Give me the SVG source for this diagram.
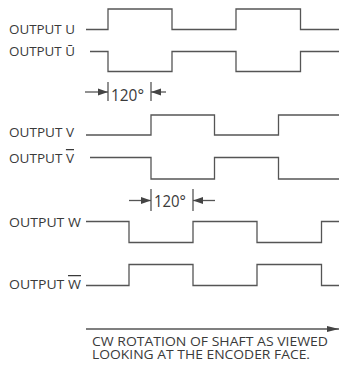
<svg xmlns="http://www.w3.org/2000/svg" width="339" height="365" viewBox="0 0 339 365">
<style>
.lbl{font-family:"Open Sans","Noto Sans",sans-serif;font-size:12.5px;fill:#3a3a3a}
.dim{font-family:"Open Sans","Noto Sans",sans-serif;font-size:16px;fill:#3a3a3a}
.note{font-family:"Open Sans","Noto Sans",sans-serif;font-size:13.5px;fill:#3a3a3a}
.wave{fill:none;stroke:#555;stroke-width:1.3}
.tick{stroke:#555;stroke-width:1.3}
.arr{stroke:#555;stroke-width:1.3;fill:none}
.ol{text-decoration:overline}
</style>
<defs>
<marker id="ah" markerUnits="userSpaceOnUse" markerWidth="12" markerHeight="8" refX="10" refY="4" orient="auto">
<path d="M0,0.5 L10,4 L0,7.5 Z" fill="#444"/>
</marker>
<marker id="ahb" markerUnits="userSpaceOnUse" markerWidth="14" markerHeight="8" refX="12" refY="4" orient="auto">
<path d="M0,1 L12,4 L0,7 Z" fill="#444"/>
</marker>
</defs>
<g id="output-u">
<text class="lbl" x="9" y="34" textLength="66" lengthAdjust="spacingAndGlyphs">OUTPUT U</text>
<path class="wave" d="M86,29.5 H108 V9 H172 V29.5 H236 V9 H300.5 V29.5 H339"/>
</g>
<g id="output-u-bar">
<text class="lbl" x="9" y="56" textLength="66" lengthAdjust="spacingAndGlyphs">OUTPUT Ū</text>
<path class="wave" d="M90,51.5 H108 V71.5 H172 V51.5 H236 V71.5 H300.5 V51.5 H339"/>
</g>
<g id="output-v">
<text class="lbl" x="9" y="137" textLength="65" lengthAdjust="spacingAndGlyphs">OUTPUT V</text>
<path class="wave" d="M86,135 H151 V115 H214.5 V135 H278.5 V115 H339"/>
</g>
<g id="output-v-bar">
<text class="lbl" x="9" y="163" textLength="65" lengthAdjust="spacingAndGlyphs">OUTPUT <tspan class="ol">V</tspan></text>
<path class="wave" d="M90,157.5 H151 V179 H214.5 V157.5 H278.5 V179 H339"/>
</g>
<g id="output-w">
<text class="lbl" x="9" y="227" textLength="72" lengthAdjust="spacingAndGlyphs">OUTPUT W</text>
<path class="wave" d="M86,221.5 H129 V242.5 H193 V221.5 H257 V242.5 H321.5 V221.5 H339"/>
</g>
<g id="output-w-bar">
<text class="lbl" x="9" y="289" textLength="72" lengthAdjust="spacingAndGlyphs">OUTPUT <tspan class="ol">W</tspan></text>
<path class="wave" d="M86,285.5 H129 V264.5 H193 V285.5 H257 V264.5 H321.5 V285.5 H339"/>
</g>
<g id="dim-1">
<line class="tick" x1="108" y1="82" x2="108" y2="101"/>
<line class="tick" x1="151" y1="82" x2="151" y2="101"/>
<text class="dim" x="111" y="101" textLength="33" lengthAdjust="spacingAndGlyphs">120°</text>
</g>
<g id="dim-2">
<line class="tick" x1="151" y1="189" x2="151" y2="211"/>
<line class="tick" x1="193" y1="189" x2="193" y2="211"/>
<text class="dim" x="154" y="207" textLength="32" lengthAdjust="spacingAndGlyphs">120°</text>
</g>
<g id="rotation-note">
<text class="note" x="92" y="345.5" textLength="236" lengthAdjust="spacingAndGlyphs">CW ROTATION OF SHAFT AS VIEWED</text>
<text class="note" x="92" y="359" textLength="218" lengthAdjust="spacingAndGlyphs">LOOKING AT THE ENCODER FACE.</text>
</g>
<g id="connectors">
<line class="arr" x1="85" y1="92" x2="108" y2="92" marker-end="url(#ah)"/>
<line class="arr" x1="166" y1="92" x2="151" y2="92" marker-end="url(#ah)"/>
<line class="arr" x1="129" y1="200.5" x2="151" y2="200.5" marker-end="url(#ah)"/>
<line class="arr" x1="215" y1="200.5" x2="193" y2="200.5" marker-end="url(#ah)"/>
<line class="arr" x1="86" y1="329" x2="339" y2="329" marker-end="url(#ahb)"/>
</g>
</svg>
